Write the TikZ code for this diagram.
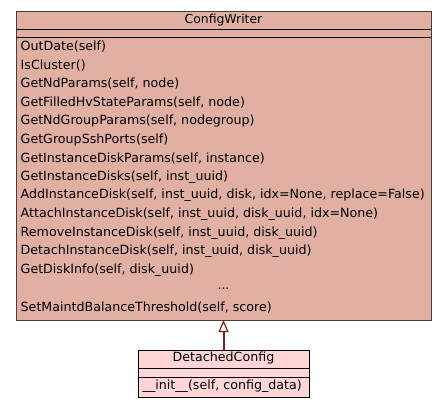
\documentclass[tikz,border=0pt]{standalone}
\usepackage{fontspec}
\setmainfont{DejaVu Sans}
\usetikzlibrary{arrows.meta}
\definecolor{bigfill}{HTML}{E1B0A3}
\definecolor{smallfill}{HTML}{FFD5D5}
\definecolor{bigborder}{HTML}{404040}
\definecolor{edgered}{HTML}{8B1A1A}
\tikzset{
  member/.style={anchor=west, inner sep=0pt, font=\fontsize{12.65}{14}\selectfont},
  title/.style={anchor=center, inner sep=0pt, font=\fontsize{12.4}{14}\selectfont},
  boxline/.style={line width=1pt},
  inherit/.style={draw=edgered, line width=2pt, -{Triangle[open, length=12pt, width=10pt, line width=1.2pt, fill=white]}}
}
\begin{document}
\begin{tikzpicture}[x=1pt,y=-1pt]
\useasboundingbox[fill=white] (0,0) rectangle (445,408);
% big class box
\draw[boxline, draw=bigborder, fill=bigfill] (16,11) rectangle (431,320);
\draw[boxline, draw=black] (16,29) -- (431,29);
\draw[boxline, draw=black] (16,37) -- (431,37);
\coordinate (bigbottom) at (223.5,320);
\node[title] (cw) at (223.5,20) {ConfigWriter};
\foreach \t [count=\i from 0] in {
  {OutDate(self)},
  {IsCluster()},
  {GetNdParams(self, node)},
  {GetFilledHvStateParams(self, node)},
  {GetNdGroupParams(self, nodegroup)},
  {GetGroupSshPorts(self)},
  {GetInstanceDiskParams(self, instance)},
  {GetInstanceDisks(self, inst\_uuid)},
  {AddInstanceDisk(self, inst\_uuid, disk, idx=None, replace=False)},
  {AttachInstanceDisk(self, inst\_uuid, disk\_uuid, idx=None)},
  {RemoveInstanceDisk(self, inst\_uuid, disk\_uuid)},
  {DetachInstanceDisk(self, inst\_uuid, disk\_uuid)},
  {GetDiskInfo(self, disk\_uuid)}}
  {\node[member] (m\i) at (20.5,{46.7+18.6*\i}) {\t};}
\node[title] (dots) at (223.5,{46.7+18.6*13}) {...};
\node[member] (m14) at (20.5,{46.7+18.6*14}) {SetMaintdBalanceThreshold(self, score)};
% small class box
\draw[boxline, draw=black, fill=smallfill] (138,350) rectangle (309,397);
\draw[boxline, draw=black] (138,368) -- (309,368);
\draw[boxline, draw=black] (138,377) -- (309,377);
\coordinate (smalltop) at (223.5,350);
\node[title, font=\fontsize{12.65}{14}\selectfont] (dc) at (223.5,358.5) {DetachedConfig};
\node[member] (init) at (142.5,386.5) {\_\_init\_\_(self, config\_data)};
% inheritance
\draw[inherit] (smalltop) -- (bigbottom);
\end{tikzpicture}
\end{document}
